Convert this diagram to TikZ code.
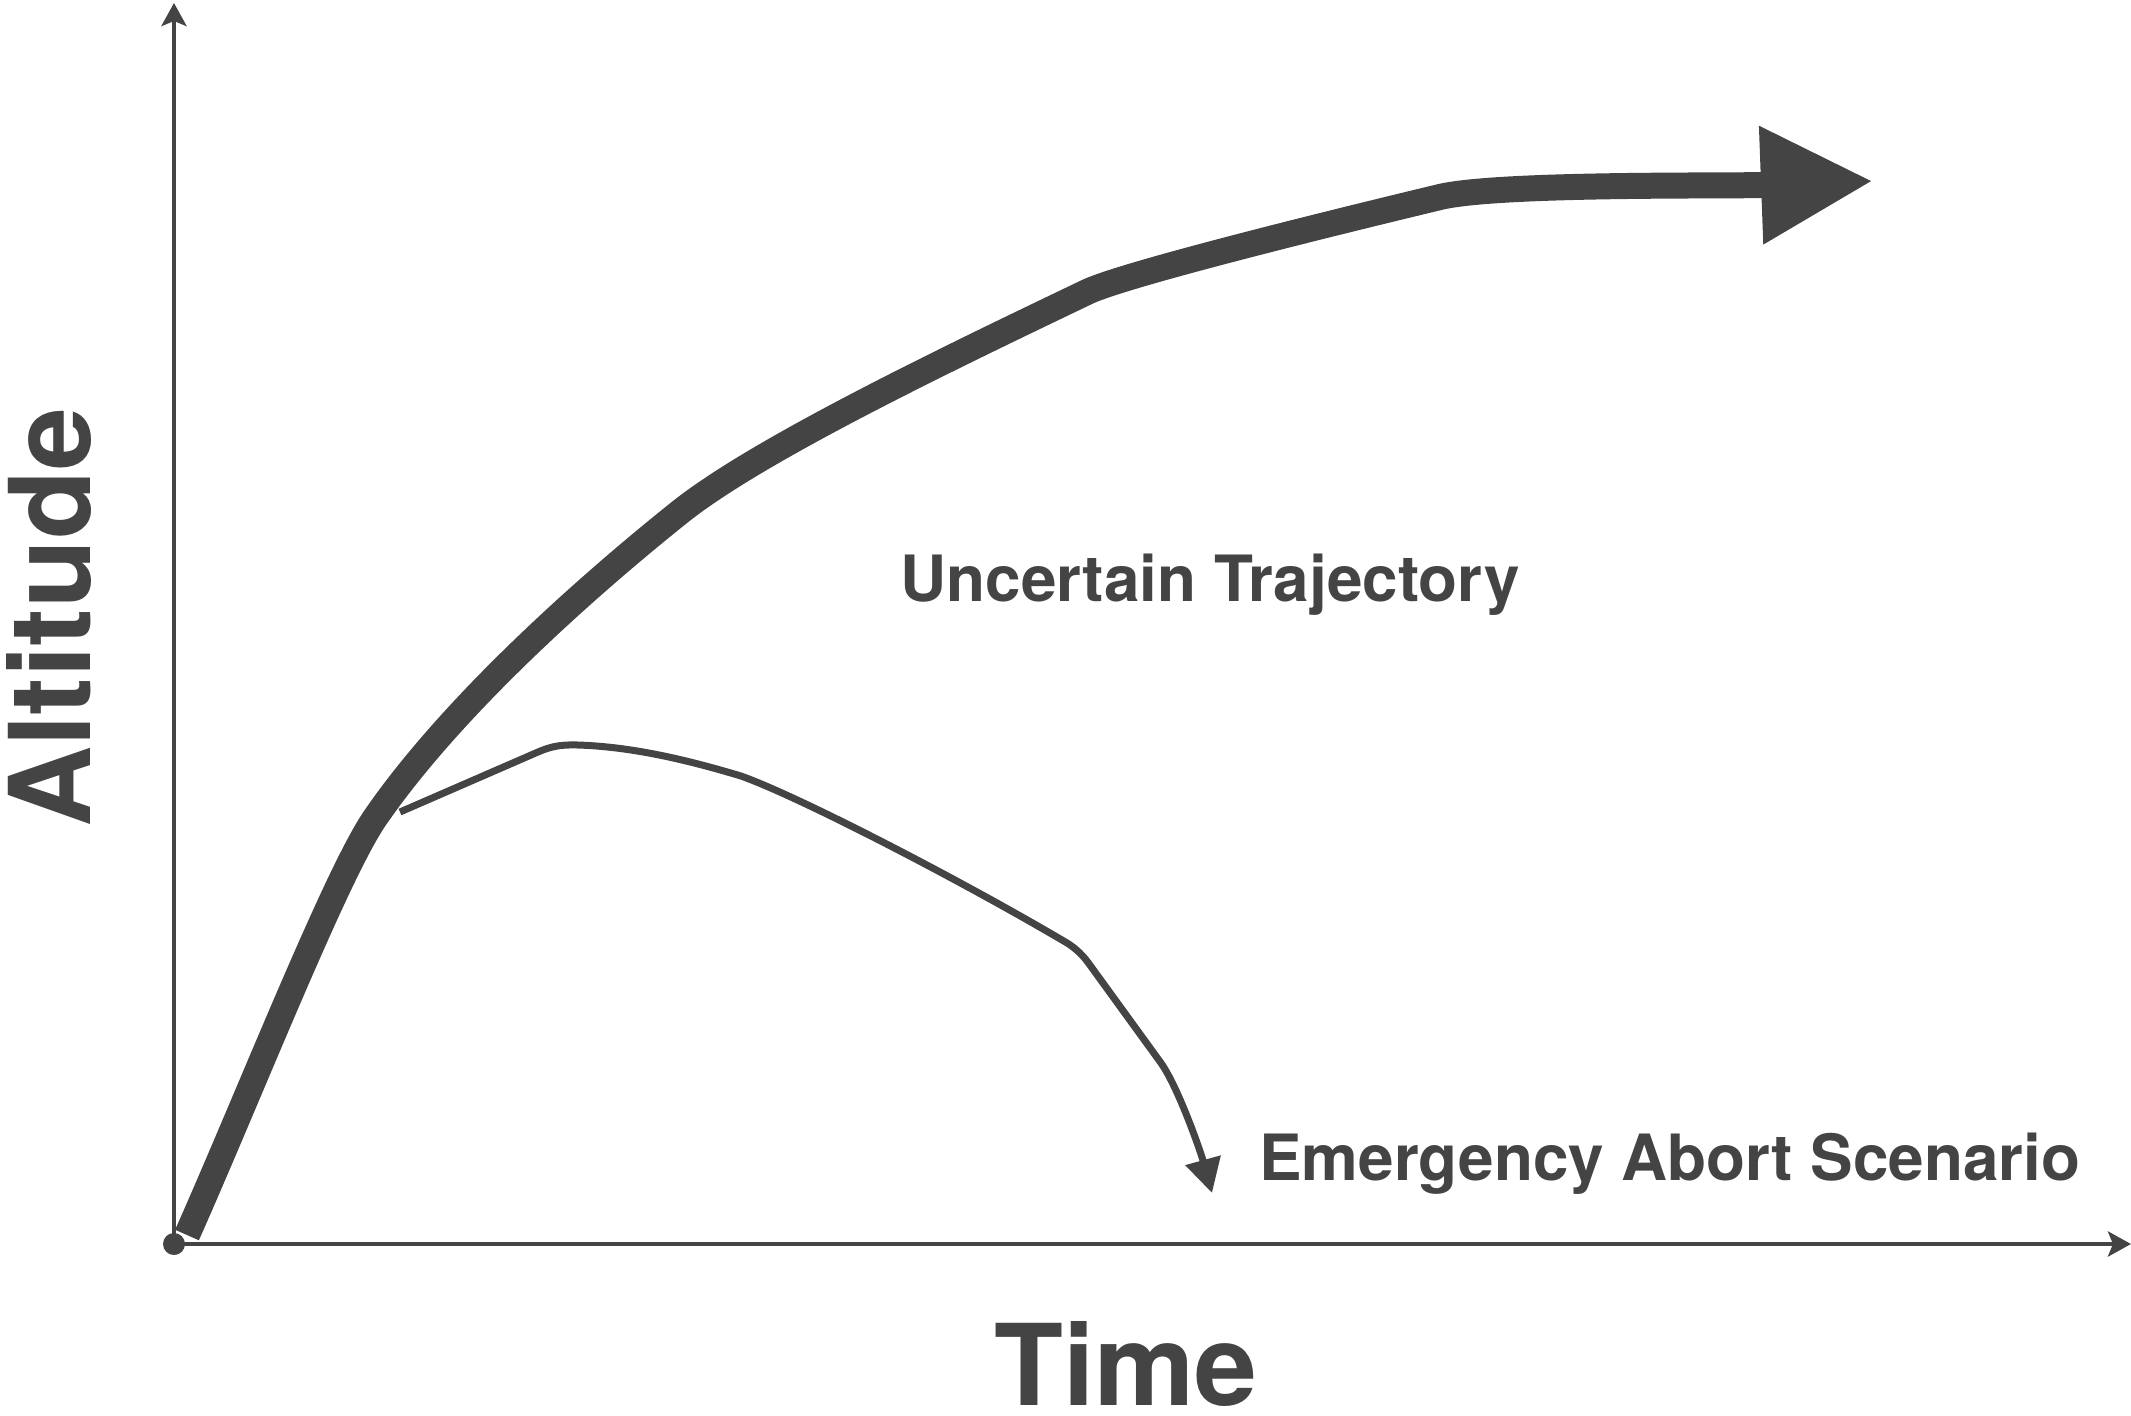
\documentclass[tikz,border=0pt]{standalone}
\usepackage{fontspec}
\setmainfont{TeX Gyre Heros}
\usetikzlibrary{arrows.meta}
\definecolor{ink}{HTML}{444444}
\begin{document}
\begin{tikzpicture}[x=0.5pt,y=-0.5pt,
  axis/.style={draw=ink,line width=2.25pt,-{Stealth[length=11.5pt,width=12.5pt,inset=2.5pt]}},
  trajthick/.style={draw=ink,line width=13pt,line join=round,-{Triangle[length=56pt,width=55.5pt]}},
  trajthin/.style={draw=ink,line width=3.5pt,line join=round,-{Triangle[length=17pt,width=17.5pt]}},
  lbl/.style={text=ink,font=\bfseries\fontsize{31.9pt}{36pt}\selectfont,inner sep=0pt},
  axlbl/.style={text=ink,font=\bfseries\fontsize{56.4pt}{60pt}\selectfont,inner sep=0pt}]
\useasboundingbox (0,0) rectangle (2131,1415);
% axes
\coordinate (O) at (174,1244);
\coordinate (ytop) at (174,3);
\coordinate (xend) at (2131,1244);
\draw[axis] (O) -- (ytop);
\draw[axis] (O) -- (xend);
\fill[ink] (O) circle (5.5pt);
% trajectory points
\coordinate (thickstart) at (187,1235);
\coordinate (j1) at (375,818);
\coordinate (j2) at (680,512);
\coordinate (j3) at (1087,292);
\coordinate (j4) at (1440,197);
\coordinate (thicktip) at (1873,181);
\coordinate (branch) at (400,812);
\coordinate (aborttip) at (1212,1193);
% uncertain trajectory
\draw[trajthick] (thickstart)
  .. controls (248.8,1096.1) and (335.4,875.7) .. (j1)
  .. controls (456.6,699.3) and (601.8,574.4) .. (j2)
  .. controls (758.2,449.6) and (948.1,358.5) .. (j3)
  .. controls (1123.1,274.7) and (1321.4,225.5) .. (j4)
  .. controls (1498.3,183.0) and (1729.1,186.3) .. (thicktip);
% emergency abort
\draw[trajthin] (branch) -- (538,752)
  .. controls (552,745.9) and (562,744.5) .. (578,745)
  .. controls (632,746.7) and (687,759.8) .. (741,776)
  .. controls (800,797) and (960,880) .. (1062,940)
  .. controls (1072,945.4) and (1081,952.8) .. (1088,962.4)
  -- (1160,1061.6)
  .. controls (1178,1086) and (1201,1153) .. (aborttip);
% labels
\node[lbl,anchor=base west] (unc) at (900,601) {Uncertain Trajectory};
\node[lbl,anchor=base west] (abort) at (1259,1180) {Emergency Abort Scenario};
\node[axlbl,rotate=90,anchor=base] (alt) at (90,618) {Altitude};
\node[axlbl,anchor=base] (time) at (1126,1405) {Time};
\end{tikzpicture}
\end{document}
